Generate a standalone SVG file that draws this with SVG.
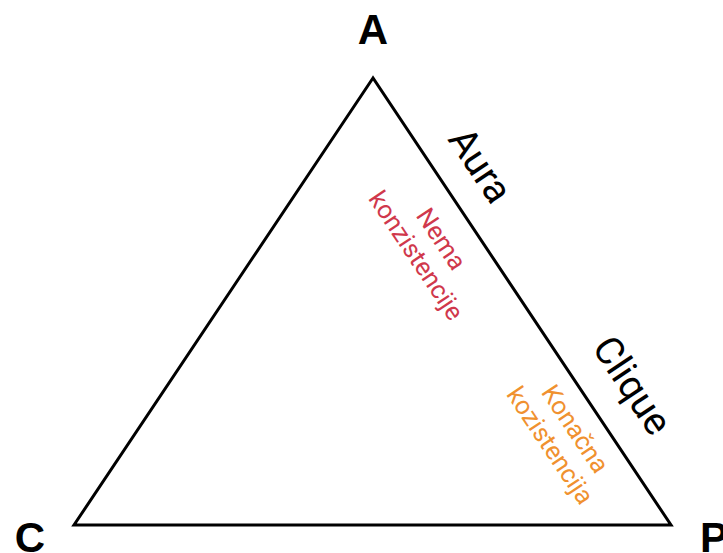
<svg xmlns="http://www.w3.org/2000/svg" width="723" height="553" viewBox="0 0 723 553">
<style>
.vtx{font-family:"Liberation Sans",Arial,sans-serif;font-weight:bold;font-size:42px;fill:#000;text-anchor:middle}
.edge{font-family:Roboto,"Liberation Sans",sans-serif;font-size:39px;fill:#000;text-anchor:middle}
.zone{font-family:Roboto,"Liberation Sans",sans-serif;font-size:25.5px;text-anchor:middle}
</style>
<rect width="723" height="553" fill="#fff"/>
<g id="connectors">
<polygon points="373,78 74,525 671,525" fill="none" stroke="#000" stroke-width="3" stroke-linejoin="miter"/>
</g>
<g id="node-A"><text class="vtx" x="373" y="44">A</text></g>
<g id="node-C"><text class="vtx" x="30" y="552">C</text></g>
<g id="node-P"><text class="vtx" x="714" y="552">P</text></g>
<g id="label-aura"><text class="edge" transform="translate(481,165) rotate(56.3)" y="14">Aura</text></g>
<g id="label-clique"><text class="edge" transform="translate(633,385) rotate(56.3)" y="14">Clique</text></g>
<g id="zone-nema"><text class="zone" fill="#d0384c" transform="translate(429,247) rotate(56.3)"><tspan x="0" y="-6">Nema</tspan><tspan x="0" y="24">konzistencije</tspan></text></g>
<g id="zone-konacna"><text class="zone" fill="#f0912f" transform="translate(563,437) rotate(56.3)"><tspan x="0" y="-6">Konačna</tspan><tspan x="0" y="24">kozistencija</tspan></text></g>
</svg>
